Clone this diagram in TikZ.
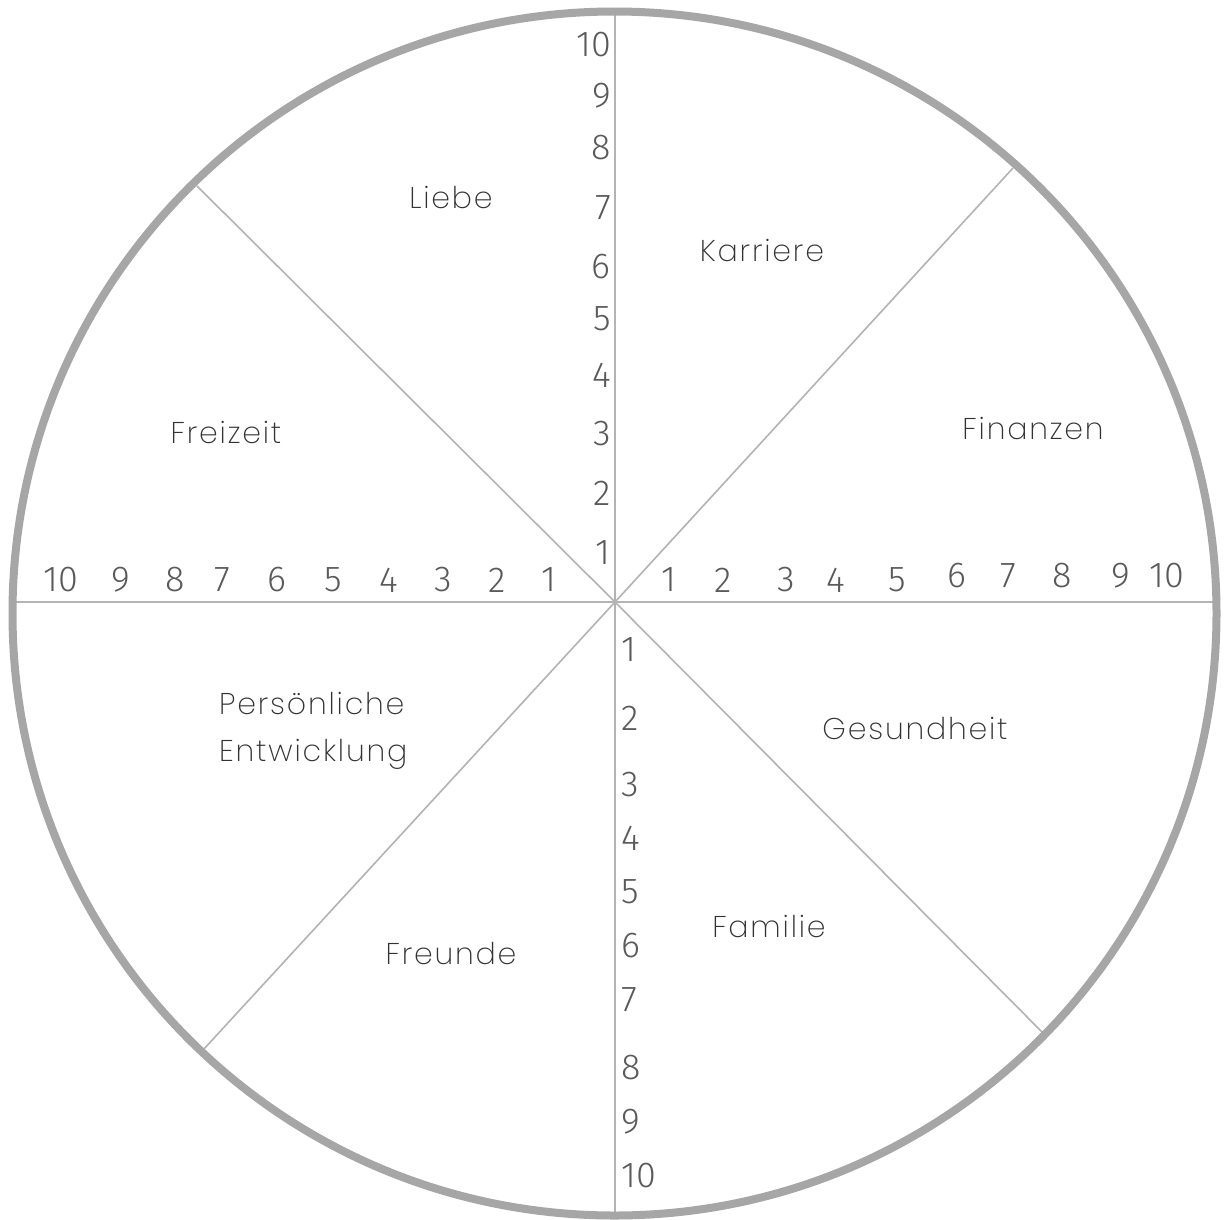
\documentclass[tikz,border=0pt]{standalone}
\usepackage{fontspec}
\IfFontExistsTF{Fira Sans Light}{\newfontfamily\numfont{Fira Sans Light}}{\newfontfamily\numfont{Fira Sans}}
\IfFontExistsTF{Poppins ExtraLight}{\newfontfamily\labfont{Poppins ExtraLight}[LetterSpace=6]}{%
 \IfFontExistsTF{Poppins Light}{\newfontfamily\labfont{Poppins Light}[LetterSpace=6]}{%
  \IfFontExistsTF{Poppins Thin}{\newfontfamily\labfont{Poppins Thin}[LetterSpace=6]}{%
   \IfFontExistsTF{Lato Light}{\newfontfamily\labfont{Lato Light}[LetterSpace=8]}{%
    \newfontfamily\labfont{Poppins}[LetterSpace=6]}}}}
\definecolor{ringgray}{HTML}{A6A6A6}
\definecolor{linegray}{HTML}{B3B3B3}
\definecolor{numgray}{HTML}{5A5A5A}
\definecolor{labgray}{HTML}{333333}
\tikzset{
  ring/.style={draw=ringgray, line width=8bp},
  spoke/.style={draw=linegray, line width=1.6bp},
  num/.style={inner sep=0pt, text=numgray, font=\numfont\fontsize{36bp}{40bp}\selectfont},
  lab/.style={inner sep=0pt, text=labgray, font=\labfont\fontsize{30bp}{47bp}\selectfont, align=left},
}
\begin{document}
\begin{tikzpicture}[x=1bp,y=-1bp]
\useasboundingbox (0,0) rectangle (1225,1220);
\fill[white] (0,0) rectangle (1225,1220);
\coordinate (c) at (615,602);
\coordinate (t) at (615,14);
\coordinate (b) at (615,1212);
\coordinate (l) at (16,602);
\coordinate (r) at (1213,602);
\coordinate (ur) at (1013,168);
\coordinate (ul) at (197,186);
\coordinate (lr) at (1045,1035);
\coordinate (ll) at (203,1050);
\draw[spoke] (t) -- (b);
\draw[spoke] (l) -- (r);
\draw[spoke] (c) -- (ur);
\draw[spoke] (c) -- (ul);
\draw[spoke] (c) -- (lr);
\draw[spoke] (c) -- (ll);
\draw[ring] (614.5,613.5) circle[radius=602];
% top vertical numbers
\foreach \n/\y in {10/45,9/96,8/148,7/208,6/267,5/319,4/375,3/434,2/493,1/553}
  \node[num, anchor=east] (vt\n) at (611,\y) {\n};
% bottom vertical numbers
\foreach \n/\y in {1/650,2/718,3/785,4/838,5/892,6/946,7/1000,8/1068,9/1122,10/1176}
  \node[num, anchor=west] (vb\n) at (621,\y) {\n};
% left horizontal numbers
\foreach \n/\x in {10/61,9/121,8/175,7/222,6/277,5/333,4/389,3/443,2/497,1/549}
  \node[num] (hl\n) at (\x,580) {\n};
% right horizontal numbers
\foreach \n/\x/\y in {1/669/580,2/723/580,3/786/580,4/836/580,5/897/580,6/957/576,7/1008/576,8/1062/576,9/1121/576,10/1167/576}
  \node[num] (hr\n) at (\x,\y) {\n};
% labels
\node[lab] (liebe) at (451,197) {Liebe};
\node[lab] (karriere) at (762,250) {Karriere};
\node[lab] (finanzen) at (1033,428) {Finanzen};
\node[lab] (freizeit) at (226,432) {Freizeit};
\node[lab] (gesundheit) at (915,728) {Gesundheit};
\node[lab, anchor=west] (pers) at (219,731) {Persönliche\\Entwicklung};
\node[lab] (familie) at (769,926) {Familie};
\node[lab] (freunde) at (451,954) {Freunde};
\end{tikzpicture}
\end{document}
